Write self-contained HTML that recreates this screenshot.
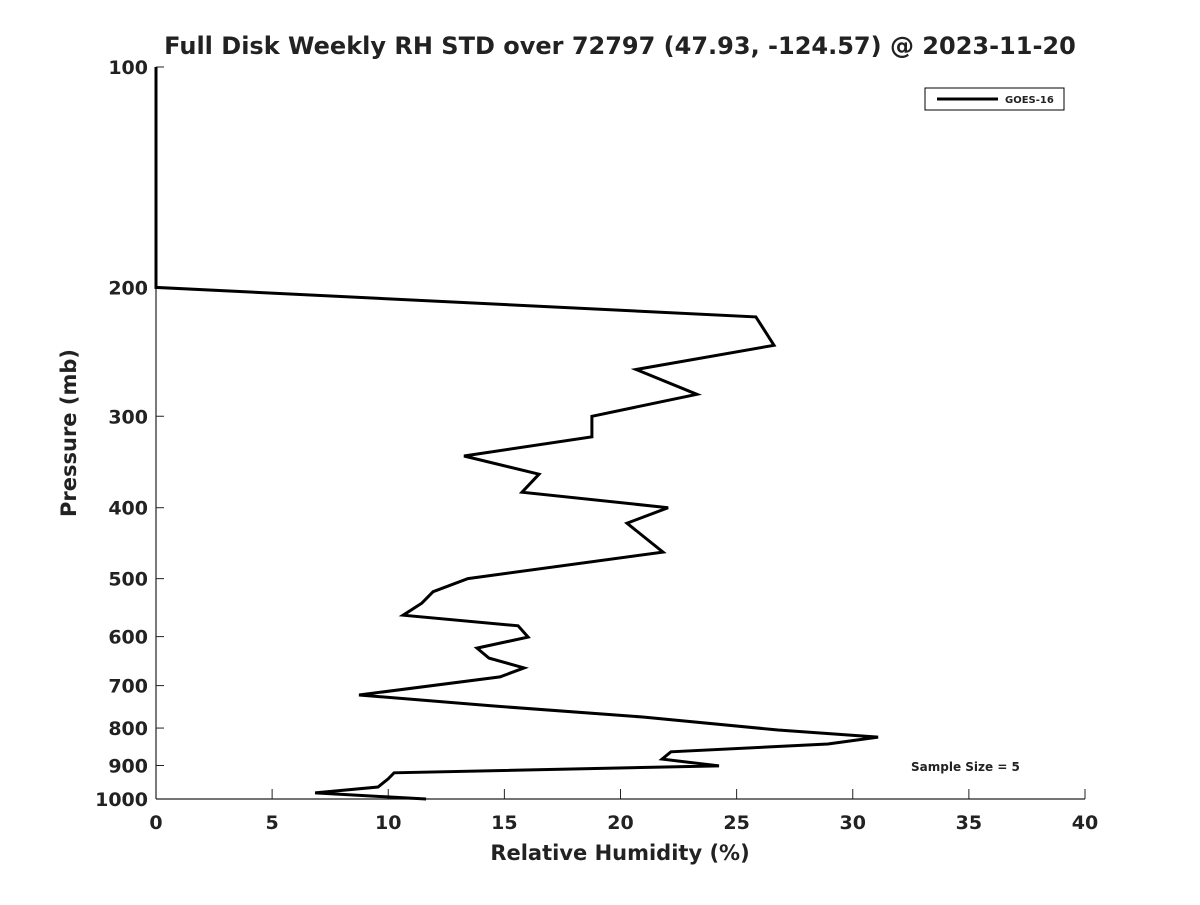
<!DOCTYPE html>
<html><head><meta charset="utf-8"><style>
body{margin:0;background:#fff;font-family:"Liberation Sans",sans-serif;}
svg text{font-family:"DejaVu Sans","Liberation Sans",sans-serif;font-weight:bold;fill:#222;}
</style></head><body>
<svg id="chart" width="1200" height="900" xmlns="http://www.w3.org/2000/svg">
<rect width="1200" height="900" fill="#fff"/>
<text x="620" y="54" text-anchor="middle" font-size="24">Full Disk Weekly RH STD over 72797 (47.93, -124.57) @ 2023-11-20</text>
<g id="axes"></g>
<g id="series"></g>
<text transform="translate(76,433) rotate(-90)" text-anchor="middle" font-size="21">Pressure (mb)</text>
<text x="620" y="860" text-anchor="middle" font-size="21">Relative Humidity (%)</text>
<g>
<rect x="925" y="88" width="139" height="22" fill="#fff" stroke="#000" stroke-width="1"/>
<line x1="937" y1="99" x2="998" y2="99" stroke="#000" stroke-width="3"/>
<text x="1005" y="103" font-size="10">GOES-16</text>
</g>
<text x="911" y="771" font-size="12" fill="#000">Sample Size = 5</text>
</svg>
<script>
const xTicks=[0,5,10,15,20,25,30,35,40];
const yTicks=[100,200,300,400,500,600,700,800,900,1000];
const pressure=[100,150,200,219.5,240,259,280,300,320,340,360,381,400,420,460,500,521,540,561,580,601,622,642,662,681,721,746,773,805,823,841,862,882,901,921,939,963,981,1000];
const rhStd=[0,0,0,25.83,26.61,20.67,23.29,18.77,18.77,13.26,16.49,15.76,22.05,20.28,21.83,13.43,11.93,11.45,10.64,15.59,16.02,13.82,14.34,15.85,14.81,8.74,14.42,21.01,26.78,31.09,28.93,22.17,21.79,24.24,10.25,9.99,9.56,6.85,11.63];
const X0=156,X1=1085,Y0=67,Y1=799;
const xs=v=>X0+(v-0)/(40-0)*(X1-X0);
const ys=p=>Y0+(Math.log10(p)-2)*(Y1-Y0);
const NS="http://www.w3.org/2000/svg";
const axes=document.getElementById('axes');
function mk(tag,attrs,parent){const e=document.createElementNS(NS,tag);for(const k in attrs)e.setAttribute(k,attrs[k]);parent.appendChild(e);return e;}
const xl=mk('line',{x1:X0,y1:Y1,x2:X1,y2:Y1,stroke:'#222','stroke-width':1.2},axes);


const yl=mk('line',{x1:X0,y1:Y0,x2:X0,y2:Y1,stroke:'#222','stroke-width':1.2},axes);


xTicks.forEach(t=>{
  const x=xs(t);
  mk('line',{x1:x,y1:Y1,x2:x,y2:Y1-10,stroke:'#222'},axes);
  const tx=mk('text',{x:x,y:829,'text-anchor':'middle','font-size':19},axes);
  tx.textContent=t;
  
  
});
yTicks.forEach(t=>{
  const y=ys(t);
  mk('line',{x1:X0,y1:y,x2:X0+8,y2:y,stroke:'#222'},axes);
  const tx=mk('text',{x:148,y:y+7,'text-anchor':'end','font-size':19},axes);
  tx.textContent=t;
  
  
});
const pts=pressure.map((p,i)=>xs(rhStd[i]).toFixed(1)+','+ys(p).toFixed(1)).join(' ');
const line=mk('polyline',{points:pts,fill:'none',stroke:'#000','stroke-width':3,'stroke-linejoin':'miter'},document.getElementById('series'));


</script>
</body></html>
